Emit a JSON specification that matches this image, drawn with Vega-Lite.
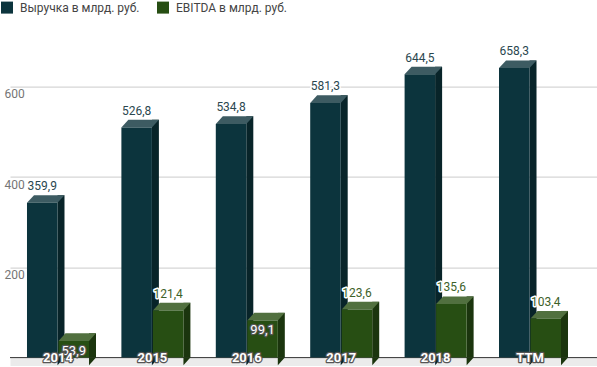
{
  "$schema": "https://vega.github.io/schema/vega-lite/v6.json",
  "width": 587,
  "height": 316,
  "autosize": {"type": "none"},
  "padding": {"left": 10, "top": 41.6, "right": 0, "bottom": 9.4},
  "background": "white",
  "config": {
    "font": "Roboto",
    "view": {"stroke": null},
    "locale": {"number": {"decimal": ",", "thousands": " ", "grouping": [3], "currency": ["", ""]}},
    "axisX": {"labels": false, "ticks": false, "grid": false, "domainColor": "#ebebeb", "domainWidth": 8, "offset": 4},
    "axisY": {"grid": true, "gridColor": "#cccccc", "domain": false, "ticks": false, "tickSize": 0, "labelAlign": "left", "labelBaseline": "top", "labelPadding": 6, "labelOffset": 2, "labelColor": "#757575", "labelFontSize": 12},
    "legend": {"orient": "none", "legendX": -9, "legendY": -40, "direction": "horizontal", "symbolType": "square", "symbolSize": 144, "symbolStrokeWidth": 0, "labelFontSize": 12, "labelColor": "#444444", "columnPadding": 17, "labelOffset": 7, "padding": 0}
  },
  "data": {"values": [
    {"cat": "2014", "series": "Выручка в млрд. руб.", "value": 359.9},
    {"cat": "2014", "series": "EBITDA в млрд. руб.", "value": 53.9},
    {"cat": "2015", "series": "Выручка в млрд. руб.", "value": 526.8},
    {"cat": "2015", "series": "EBITDA в млрд. руб.", "value": 121.4},
    {"cat": "2016", "series": "Выручка в млрд. руб.", "value": 534.8},
    {"cat": "2016", "series": "EBITDA в млрд. руб.", "value": 99.1},
    {"cat": "2017", "series": "Выручка в млрд. руб.", "value": 581.3},
    {"cat": "2017", "series": "EBITDA в млрд. руб.", "value": 123.6},
    {"cat": "2018", "series": "Выручка в млрд. руб.", "value": 644.5},
    {"cat": "2018", "series": "EBITDA в млрд. руб.", "value": 135.6},
    {"cat": "TTM", "series": "Выручка в млрд. руб.", "value": 658.3},
    {"cat": "TTM", "series": "EBITDA в млрд. руб.", "value": 103.4}
  ]},
  "resolve": {"scale": {"xOffset": "independent"}},
  "layer": [
    {
      "data": {"values": [{}]},
      "mark": {"type": "rule", "color": "#333333", "strokeWidth": 1},
      "encoding": {"y": {"datum": 0, "type": "quantitative", "scale": {"domain": [0, 700], "nice": false}, "axis": {"values": [200, 400, 600], "title": null}}}
    },
    {
      "mark": {"type": "bar", "width": 7},
      "encoding": {
        "x": {"field": "cat", "type": "nominal", "sort": null, "title": null, "scale": {"paddingInner": 0.343, "paddingOuter": 0.2805, "align": 0.453}},
        "xOffset": {"field": "series", "type": "nominal", "scale": {"domain": ["Выручка в млрд. руб.", "EBITDA в млрд. руб."], "paddingInner": 0.0317, "paddingOuter": 0, "range": [11.75, 73.77]}},
        "y": {"field": "value", "type": "quantitative", "stack": null, "title": null, "axis": {"values": [200, 400, 600]}},
        "y2": {"datum": 0},
        "fill": {"condition": {"test": "datum.series === 'EBITDA в млрд. руб.'", "value": "#1b350e"}, "value": "#082429"}
      }
    },
    {
      "mark": {"type": "point", "filled": true, "opacity": 1, "strokeWidth": 0, "size": 4, "shape": "M 8.25 0 L 15.25 0 L 8.25 7.7 Z"},
      "encoding": {
        "x": {"field": "cat", "type": "nominal", "sort": null, "title": null},
        "xOffset": {"field": "series", "type": "nominal", "scale": {"type": "point", "domain": ["Выручка в млрд. руб.", "EBITDA в млрд. руб."], "padding": 0, "range": [15.25, 46.77]}},
        "y": {"datum": 0, "type": "quantitative"},
        "fill": {"condition": {"test": "datum.series === 'EBITDA в млрд. руб.'", "value": "#1b350e"}, "value": "#082429"}
      }
    },
    {
      "mark": {"type": "point", "filled": true, "opacity": 1, "strokeWidth": 0, "size": 4, "shape": "M -22.25 7.7 L 8.25 7.7 L 15.25 0 L -15.25 0 Z"},
      "encoding": {
        "x": {"field": "cat", "type": "nominal", "sort": null, "title": null},
        "xOffset": {"field": "series", "type": "nominal", "scale": {"type": "point", "domain": ["Выручка в млрд. руб.", "EBITDA в млрд. руб."], "padding": 0, "range": [15.25, 46.77]}},
        "y": {"field": "value", "type": "quantitative", "title": null, "axis": {"values": [200, 400, 600]}},
        "fill": {"condition": {"test": "datum.series === 'EBITDA в млрд. руб.'", "value": "#51703f"}, "value": "#3d5b62"}
      }
    },
    {
      "mark": {"type": "bar", "yOffset": 7.7, "y2Offset": 7.7},
      "encoding": {
        "x": {"field": "cat", "type": "nominal", "sort": null, "title": null},
        "xOffset": {"field": "series", "type": "nominal", "scale": {"domain": ["Выручка в млрд. руб.", "EBITDA в млрд. руб."], "paddingInner": 0.0317, "paddingOuter": 0, "range": [-7, 55.02]}},
        "y": {"field": "value", "type": "quantitative", "stack": null, "title": null, "axis": {"values": [200, 400, 600]}},
        "color": {"field": "series", "type": "nominal", "title": null, "scale": {"domain": ["Выручка в млрд. руб.", "EBITDA в млрд. руб."], "range": ["#0c343d", "#274e13"]}}
      }
    },
    {
      "transform": [{"filter": "!(datum.series === 'EBITDA в млрд. руб.' && datum.value < 100)"}],
      "mark": {"type": "text", "baseline": "alphabetic", "dy": -5, "dx": -7, "fontSize": 12, "fill": "white", "stroke": "white", "strokeWidth": 3, "strokeJoin": "round"},
      "encoding": {
        "x": {"field": "cat", "type": "nominal", "sort": null, "title": null},
        "xOffset": {"field": "series", "type": "nominal", "scale": {"type": "point", "domain": ["Выручка в млрд. руб.", "EBITDA в млрд. руб."], "padding": 0, "range": [15.25, 46.77]}},
        "y": {"field": "value", "type": "quantitative", "title": null, "axis": {"values": [200, 400, 600]}},
        "text": {"field": "value", "type": "quantitative", "format": ".1f"}
      }
    },
    {
      "transform": [{"filter": "!(datum.series === 'EBITDA в млрд. руб.' && datum.value < 100)"}],
      "mark": {"type": "text", "baseline": "alphabetic", "dy": -5, "dx": -7, "fontSize": 12},
      "encoding": {
        "x": {"field": "cat", "type": "nominal", "sort": null, "title": null},
        "xOffset": {"field": "series", "type": "nominal", "scale": {"type": "point", "domain": ["Выручка в млрд. руб.", "EBITDA в млрд. руб."], "padding": 0, "range": [15.25, 46.77]}},
        "y": {"field": "value", "type": "quantitative", "title": null, "axis": {"values": [200, 400, 600]}},
        "text": {"field": "value", "type": "quantitative", "format": ".1f"},
        "fill": {"condition": {"test": "datum.series === 'EBITDA в млрд. руб.'", "value": "#3d6129"}, "value": "#2a474f"}
      }
    },
    {
      "transform": [{"filter": "datum.series === 'EBITDA в млрд. руб.' && datum.value < 100"}],
      "mark": {"type": "text", "baseline": "middle", "dy": 17.5, "dx": -7, "fontSize": 13, "fill": "#555555", "stroke": "#555555", "strokeWidth": 2.5, "strokeJoin": "round"},
      "encoding": {
        "x": {"field": "cat", "type": "nominal", "sort": null, "title": null},
        "xOffset": {"field": "series", "type": "nominal", "scale": {"type": "point", "domain": ["Выручка в млрд. руб.", "EBITDA в млрд. руб."], "padding": 0, "range": [15.25, 46.77]}},
        "y": {"field": "value", "type": "quantitative", "title": null, "axis": {"values": [200, 400, 600]}},
        "text": {"field": "value", "type": "quantitative", "format": ".1f"}
      }
    },
    {
      "transform": [{"filter": "datum.series === 'EBITDA в млрд. руб.' && datum.value < 100"}],
      "mark": {"type": "text", "baseline": "middle", "dy": 17.5, "dx": -7, "fontSize": 13, "fill": "white"},
      "encoding": {
        "x": {"field": "cat", "type": "nominal", "sort": null, "title": null},
        "xOffset": {"field": "series", "type": "nominal", "scale": {"type": "point", "domain": ["Выручка в млрд. руб.", "EBITDA в млрд. руб."], "padding": 0, "range": [15.25, 46.77]}},
        "y": {"field": "value", "type": "quantitative", "title": null, "axis": {"values": [200, 400, 600]}},
        "text": {"field": "value", "type": "quantitative", "format": ".1f"}
      }
    },
    {
      "transform": [{"filter": "datum.series === 'Выручка в млрд. руб.'"}],
      "mark": {"type": "text", "baseline": "middle", "dx": -7, "fontSize": 13, "fontWeight": "bold", "fill": "#555555", "stroke": "#555555", "strokeWidth": 2.5, "strokeJoin": "round"},
      "encoding": {
        "x": {"field": "cat", "type": "nominal", "sort": null, "title": null},
        "y": {"datum": 0, "type": "quantitative"},
        "text": {"field": "cat"}
      }
    },
    {
      "transform": [{"filter": "datum.series === 'Выручка в млрд. руб.'"}],
      "mark": {"type": "text", "baseline": "middle", "dx": -7, "fontSize": 13, "fontWeight": "bold", "fill": "white"},
      "encoding": {
        "x": {"field": "cat", "type": "nominal", "sort": null, "title": null},
        "y": {"datum": 0, "type": "quantitative"},
        "text": {"field": "cat"}
      }
    }
  ]
}
